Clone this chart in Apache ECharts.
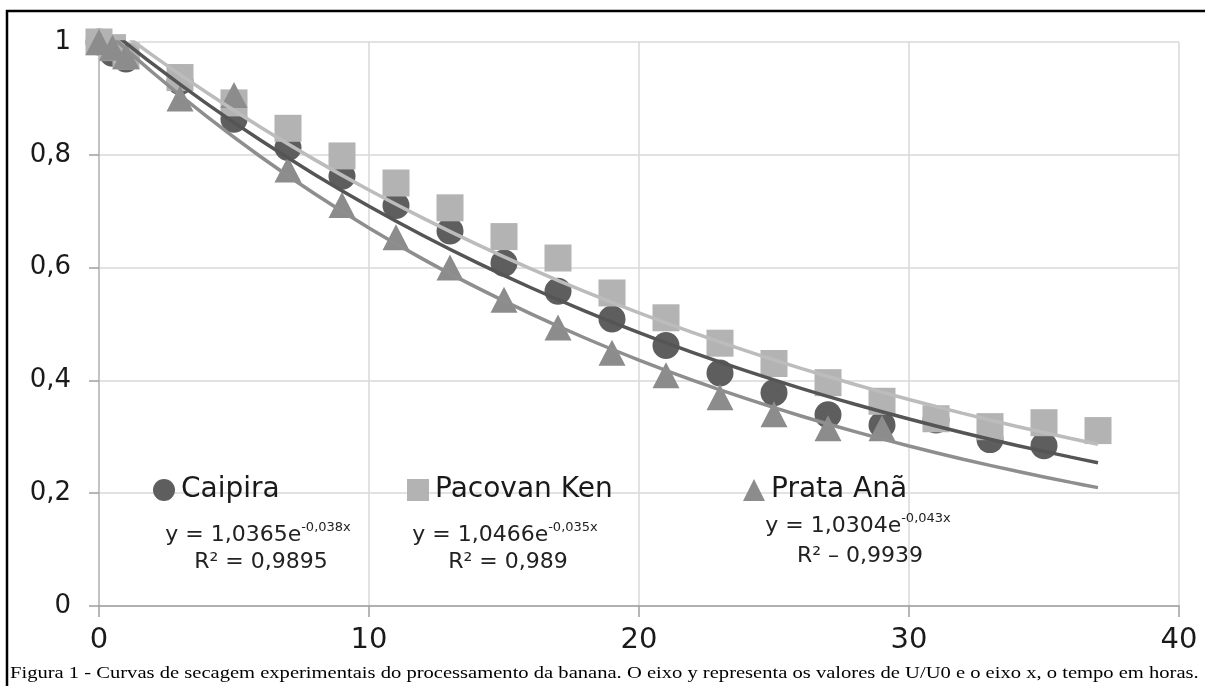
<!DOCTYPE html>
<html>
<head>
<meta charset="utf-8">
<script src="https://cdn.jsdelivr.net/npm/echarts@6/dist/echarts.min.js"></script>
<style>
html,body{margin:0;padding:0;background:#fff;}
#c{width:1205px;height:686px;}
</style>
</head>
<body>
<div id="c"></div>
<script>
// ---- data ----
var seriesNames = ['Caipira', 'Pacovan Ken', 'Prata Anã'];

var caipiraPts = [[0,1.0],[0.5,0.98],[1,0.97],[3,0.93],[5,0.863],[7,0.813],[9,0.762],[11,0.71],[13,0.665],[15,0.608],[17,0.558],[19,0.509],[21,0.462],[23,0.413],[25,0.378],[27,0.339],[29,0.321],[31,0.33],[33,0.295],[35,0.284]];
var pacovanPts = [[0,1.0],[0.5,0.99],[1,0.975],[3,0.937],[5,0.892],[7,0.847],[9,0.798],[11,0.75],[13,0.706],[15,0.655],[17,0.617],[19,0.555],[21,0.511],[23,0.466],[25,0.43],[27,0.396],[29,0.363],[31,0.332],[33,0.318],[35,0.325],[37,0.311]];
var prataPts = [[0,1.0],[0.5,0.99],[1,0.975],[3,0.90],[5,0.906],[7,0.774],[9,0.711],[11,0.654],[13,0.600],[15,0.543],[17,0.494],[19,0.449],[21,0.409],[23,0.37],[25,0.34],[27,0.315],[29,0.315]];

// trend lines (exponential fits as drawn), sampled along x
var trendX = [0,2,4,6,8,10,12,14,16,18,20,22,24,26,28,30,32,34,36,37];
var caipiraTrend = [1.0365,0.9606,0.8903,0.8252,0.7648,0.7089,0.6570,0.6089,0.5643,0.5230,0.4847,0.4493,0.4164,0.3859,0.3577,0.3315,0.3072,0.2847,0.2639,0.2540];
var pacovanTrend = [1.0466,0.9759,0.9099,0.8484,0.7910,0.7375,0.6877,0.6412,0.5978,0.5574,0.5197,0.4846,0.4518,0.4213,0.3928,0.3662,0.3415,0.3184,0.2969,0.2867];
var prataTrend = [1.0304,0.9455,0.8676,0.7961,0.7305,0.6703,0.6150,0.5644,0.5179,0.4752,0.4361,0.4001,0.3671,0.3369,0.3091,0.2837,0.2603,0.2388,0.2192,0.2099];

var eqMain = ['y = 1,0365e', 'y = 1,0466e', 'y = 1,0304e'];
var eqExp = ['-0,038x', '-0,035x', '-0,043x'];
var eqR2 = ['R² = 0,9895', 'R² = 0,989', 'R² – 0,9939'];

var xTicks = {min: 0, max: 40, interval: 10};
var yTicks = {min: 0, max: 1, interval: 0.2};

var caption = 'Figura 1 - Curvas de secagem experimentais do processamento da banana. O eixo y representa os valores de U/U0 e o eixo x, o tempo em horas.';

// ---- chart ----
var colCai = '#5e5e5e', colPac = '#b3b3b3', colPra = '#8c8c8c';
var lineCai = '#555555', linePac = '#bcbcbc', linePra = '#8e8e8e';

function zip(xs, ys){ return xs.map(function(x,i){ return [x, ys[i]]; }); }

var chart = echarts.init(document.getElementById('c'));
var F = 'DejaVu Sans, Liberation Sans, Arial, sans-serif';

var legendBase = {
  orient: 'horizontal', itemWidth: 22, itemHeight: 22, padding: 0,
  textStyle: {fontFamily: F, fontSize: 28, color: '#1a1a1a', padding: [0,0,0,1]},
  backgroundColor: 'transparent'
};

function eqLine1(i, cx, cy){
  return {
    type: 'text', x: cx, y: cy, z: 50, silent: true,
    style: {
      text: '{n|' + eqMain[i] + '}{s|' + eqExp[i] + '}',
      align: 'center', verticalAlign: 'middle',
      rich: {
        n: {fontFamily: F, fontSize: 22, fill: '#222', lineHeight: 28},
        s: {fontFamily: F, fontSize: 13, fill: '#222', lineHeight: 14, verticalAlign: 'top'}
      }
    }
  };
}
function eqLine2(i, cx, cy){
  return {
    type: 'text', x: cx, y: cy, z: 50, silent: true,
    style: {text: eqR2[i], fontFamily: F, fontSize: 22, fill: '#222', align: 'center', verticalAlign: 'middle'}
  };
}

var option = {
  backgroundColor: '#ffffff',
  animation: false,
  grid: {left: 99, right: 26, top: 42, bottom: 80, containLabel: false},
  xAxis: {
    type: 'value', min: xTicks.min, max: xTicks.max, interval: xTicks.interval,
    axisLine: {show: true, onZero: false, lineStyle: {color: '#a0a0a0', width: 1.5}},
    axisTick: {show: true, inside: false, length: 11, lineStyle: {color: '#a0a0a0', width: 1.5}},
    axisLabel: {fontFamily: F, fontSize: 29, color: '#1a1a1a', margin: 20},
    splitLine: {show: true, lineStyle: {color: '#d9d9d9', width: 1.5}}
  },
  yAxis: {
    type: 'value', min: yTicks.min, max: yTicks.max, interval: yTicks.interval,
    axisLine: {show: true, onZero: false, lineStyle: {color: '#b8b8b8', width: 1.5}},
    axisTick: {show: true, inside: false, length: 10, lineStyle: {color: '#a0a0a0', width: 1.5}},
    axisLabel: {fontFamily: F, fontSize: 26, color: '#1a1a1a', margin: 28,
      formatter: function(v){ return String(+v.toFixed(1)).replace('.', ','); }},
    splitLine: {show: true, lineStyle: {color: '#d9d9d9', width: 1.5}}
  },
  legend: [
    Object.assign({}, legendBase, {left: 153, top: 476, data: [{name: seriesNames[0], icon: 'circle'}]}),
    Object.assign({}, legendBase, {left: 407, top: 476, data: [{name: seriesNames[1], icon: 'rect'}]}),
    Object.assign({}, legendBase, {left: 743, top: 476, data: [{name: seriesNames[2], icon: 'triangle'}]})
  ],
  series: [
    {name: seriesNames[0], type: 'scatter', data: caipiraPts, symbol: 'circle', symbolSize: 27,
      itemStyle: {color: colCai, opacity: 1}, z: 2},
    {name: seriesNames[1], type: 'scatter', data: pacovanPts, symbol: 'rect', symbolSize: 27,
      itemStyle: {color: colPac, opacity: 1}, z: 3},
    {name: seriesNames[2], type: 'scatter', data: prataPts, symbol: 'triangle', symbolSize: [27, 26],
      itemStyle: {color: colPra, opacity: 1}, z: 4},
    {name: 'trend-cai', type: 'line', data: zip(trendX, caipiraTrend), smooth: 0.3, showSymbol: false, clip: true,
      lineStyle: {color: lineCai, width: 3.5}, z: 6, silent: true},
    {name: 'trend-pac', type: 'line', data: zip(trendX, pacovanTrend), smooth: 0.3, showSymbol: false, clip: true,
      lineStyle: {color: linePac, width: 3.5}, z: 5, silent: true},
    {name: 'trend-pra', type: 'line', data: zip(trendX, prataTrend), smooth: 0.3, showSymbol: false, clip: true,
      lineStyle: {color: linePra, width: 3.5}, z: 5, silent: true}
  ],
  graphic: [
    {type: 'rect', shape: {x: 7, y: 11, width: 1210, height: 690}, style: {fill: 'none', stroke: '#000', lineWidth: 2.5}, z: 100, silent: true},
    eqLine1(0, 258, 535), eqLine2(0, 261, 562),
    eqLine1(1, 505, 535), eqLine2(1, 508, 562),
    eqLine1(2, 858, 526), eqLine2(2, 860, 556),
    {type: 'text', x: 10, y: 674, scaleX: 1.21, z: 50, silent: true,
      style: {text: caption, fontFamily: 'Liberation Serif, Times New Roman, serif', fontSize: 17, fill: '#000', align: 'left', verticalAlign: 'middle'}}
  ]
};
chart.setOption(option);
</script>
</body>
</html>
